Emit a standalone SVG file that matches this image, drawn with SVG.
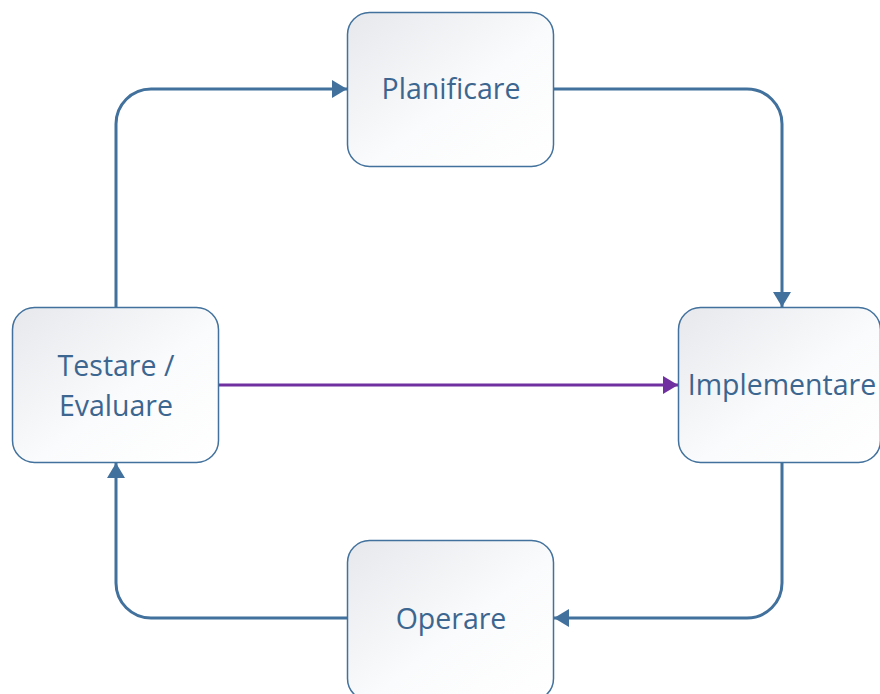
<svg xmlns="http://www.w3.org/2000/svg" width="880" height="694" viewBox="0 0 880 694">
<defs>
<linearGradient id="g" x1="0" y1="0" x2="1" y2="1">
<stop offset="0" stop-color="#e6e8ec"/>
<stop offset="0.55" stop-color="#fafbfc"/>
<stop offset="1" stop-color="#ffffff"/>
</linearGradient>
<marker id="ab" markerWidth="6" markerHeight="6" refX="5" refY="3" orient="auto" markerUnits="strokeWidth">
<path d="M0,0 L5,3 L0,6 z" fill="#41719c"/>
</marker>
<marker id="ap" markerWidth="6" markerHeight="6" refX="5" refY="3" orient="auto" markerUnits="strokeWidth">
<path d="M0,0 L5,3 L0,6 z" fill="#7030a0"/>
</marker>
</defs>
<style>
.box{fill:url(#g);stroke:#41719c;stroke-width:1.5}
.lbl{font-family:"Open Sans","Liberation Sans",sans-serif;font-size:28.5px;fill:#3c6690;text-anchor:middle}
.c{fill:none;stroke:#41719c;stroke-width:3;marker-end:url(#ab)}
.p{fill:none;stroke:#7030a0;stroke-width:3;marker-end:url(#ap)}
</style>
<g id="connectors">
<path class="c" d="M116,307 V124 A35,35 0 0 1 151,89 H347"/>
<path class="c" d="M554,89 H747 A35,35 0 0 1 782,124 V307"/>
<path class="c" d="M782,463 V583 A35,35 0 0 1 747,618 H554"/>
<path class="c" d="M347,618 H151 A35,35 0 0 1 116,583 V463"/>
<path class="p" d="M219,385 H678"/>
</g>
<g id="planificare">
<rect class="box" x="347.5" y="12.5" width="206" height="154" rx="22"/>
<text class="lbl" x="451" y="99">Planificare</text>
</g>
<g id="implementare">
<rect class="box" x="678.5" y="307.5" width="202" height="155" rx="22"/>
<text class="lbl" x="782" y="395">Implementare</text>
</g>
<g id="testare">
<rect class="box" x="12.5" y="307.5" width="206" height="155" rx="22"/>
<text class="lbl" x="116" y="376">Testare /</text>
<text class="lbl" x="116" y="416">Evaluare</text>
</g>
<g id="operare">
<rect class="box" x="347.5" y="540.5" width="206" height="160" rx="22"/>
<text class="lbl" x="451" y="629">Operare</text>
</g>
</svg>
